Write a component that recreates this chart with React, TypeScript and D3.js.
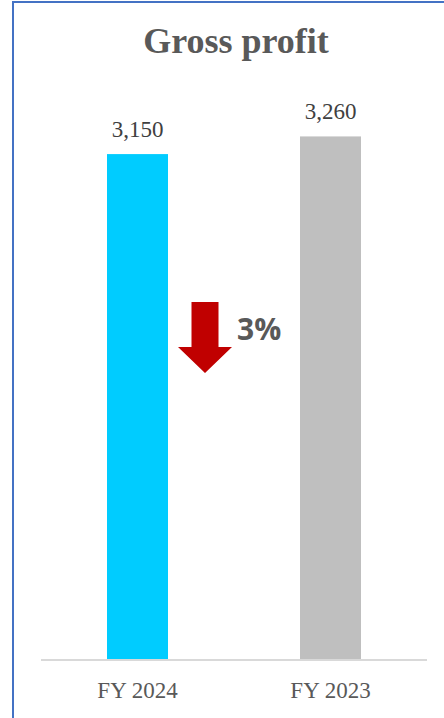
import React from "react";
import * as d3 from "d3";

const categories = ["FY 2024", "FY 2023"];
const values = [3150, 3260];
const barColors = ["#00CCFF", "#BFBFBF"];
const title = "Gross profit";
const changeLabel = "3%";

const W = 444;
const H = 718;

export default function App() {
  const x = d3.scalePoint<string>().domain(categories).range([41, 427]).padding(0.5);
  const y = d3.scaleLinear().domain([0, 3300]).range([660, 130]);
  const barW = 61;
  const fmt = d3.format(",");
  const cx = ((x(categories[0]) as number) + (x(categories[1]) as number)) / 2 - 29;
  const arrowTop = 302;
  const arrow = [
    [cx - 13.5, arrowTop],
    [cx + 13.5, arrowTop],
    [cx + 13.5, arrowTop + 45],
    [cx + 27, arrowTop + 45],
    [cx, arrowTop + 71],
    [cx - 27, arrowTop + 45],
    [cx - 13.5, arrowTop + 45],
  ];
  return (
    <div style={{ position: "absolute", left: 0, top: 0 }}>
      <svg width={W} height={H} style={{ display: "block" }}>
        <rect x={0} y={0} width={W} height={H} fill="#ffffff" />
        <line x1={12} x2={W} y1={2} y2={2} stroke="#4472C4" strokeWidth={2} />
        <line x1={13} x2={13} y1={1} y2={718} stroke="#4472C4" strokeWidth={2} />
        <text
          x={236}
          y={53}
          textAnchor="middle"
          fontFamily="'Liberation Serif', 'Times New Roman', serif"
          fontWeight="bold"
          fontSize={36}
          fill="#595959"
        >
          {title}
        </text>
        {categories.map((c, i) => {
          const cxBar = x(c) as number;
          return (
            <g key={c}>
              <rect
                x={cxBar - barW / 2}
                y={y(values[i])}
                width={barW}
                height={660 - y(values[i])}
                fill={barColors[i]}
              />
              <text
                x={cxBar}
                y={y(values[i]) - 17}
                textAnchor="middle"
                fontFamily="'Liberation Serif', 'Times New Roman', serif"
                fontSize={23}
                fill="#404040"
              >
                {fmt(values[i])}
              </text>
              <text
                x={cxBar}
                y={698}
                textAnchor="middle"
                fontFamily="'Liberation Serif', 'Times New Roman', serif"
                fontSize={23}
                fill="#595959"
              >
                {c}
              </text>
            </g>
          );
        })}
        <line x1={41} x2={427} y1={660} y2={660} stroke="#D9D9D9" strokeWidth={2} />
        <polygon points={arrow.map((p) => p.join(",")).join(" ")} fill="#C00000" />
        <text
          x={237}
          y={340}
          fontFamily="'Open Sans', 'DejaVu Sans', sans-serif"
          fontWeight="bold"
          fontSize={30}
          fill="#595959"
        >
          {changeLabel}
        </text>
      </svg>
    </div>
  );
}
